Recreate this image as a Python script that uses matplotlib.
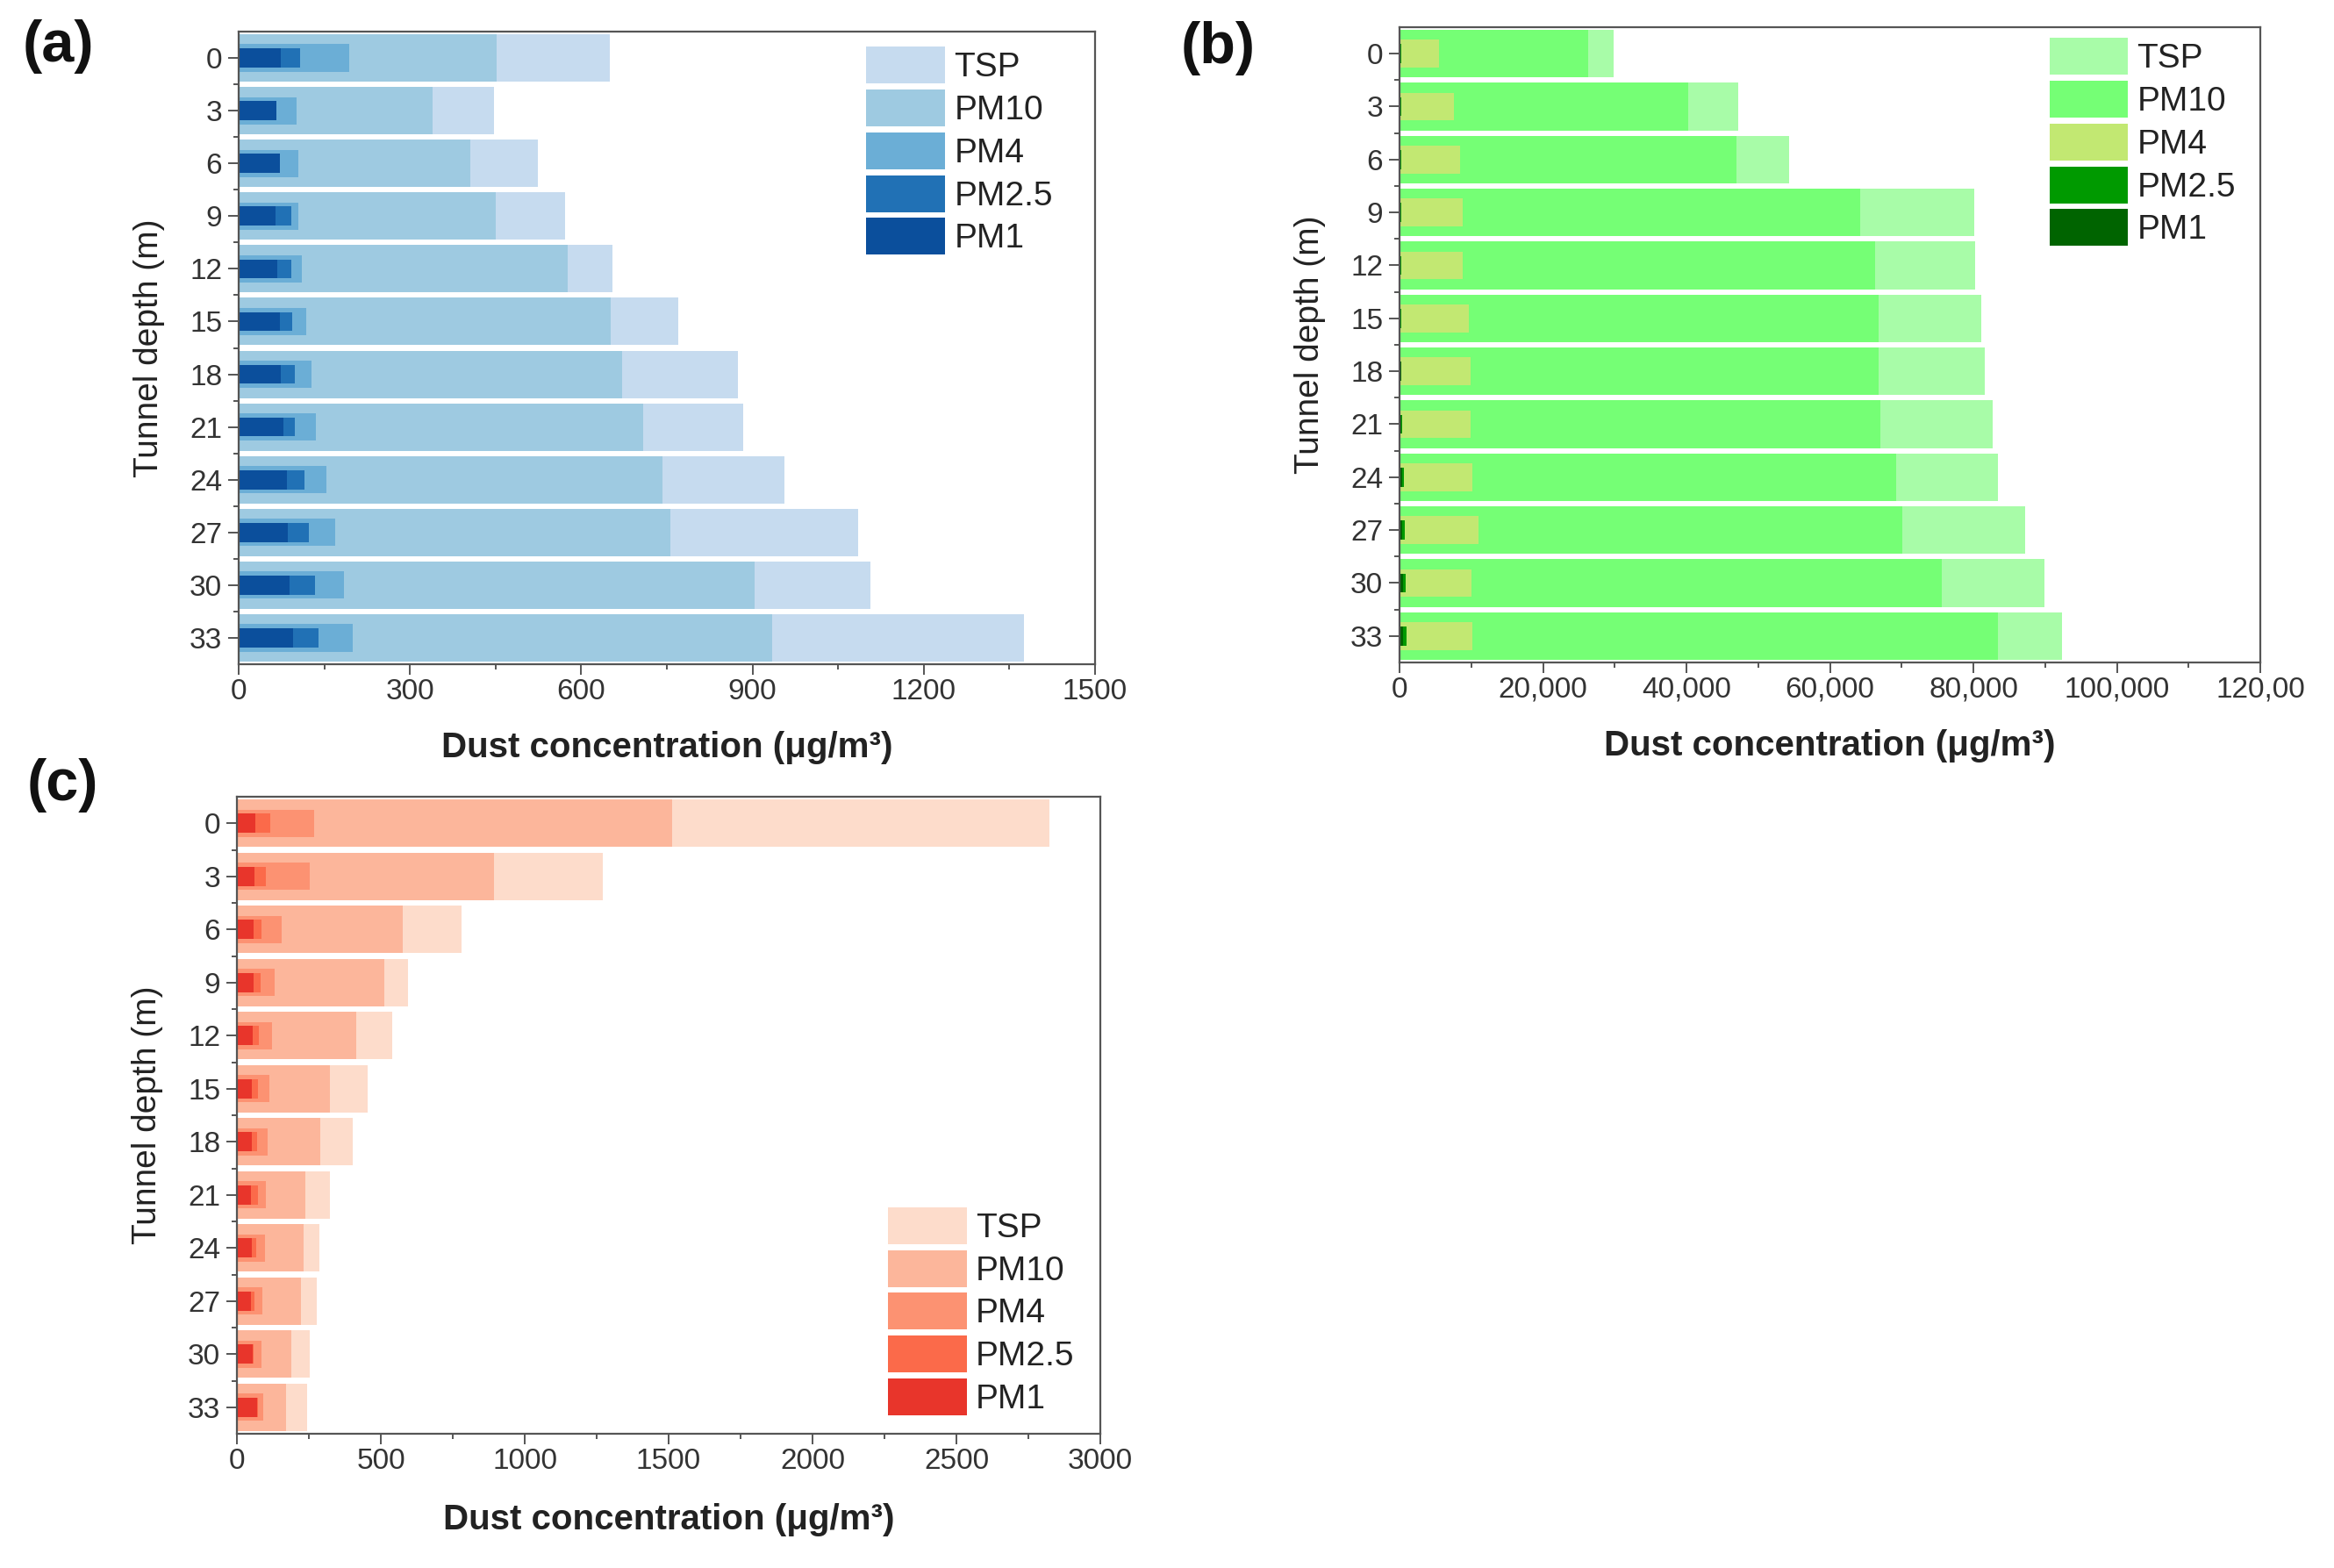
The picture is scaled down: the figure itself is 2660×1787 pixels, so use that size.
import numpy as np
import matplotlib
matplotlib.use("Agg")
import matplotlib.pyplot as plt
from matplotlib.ticker import MultipleLocator, FixedLocator

plt.rcParams['font.family'] = ['Liberation Sans', 'DejaVu Sans']

# ======================================================
# Data
# ======================================================

depths = [0, 3, 6, 9, 12, 15, 18, 21, 24, 27, 30, 33]
size_names = ["TSP", "PM10", "PM4", "PM2.5", "PM1"]

# (a)
a_tsp = [650, 448, 524, 571, 654, 770, 874, 884, 956, 1085, 1106, 1376]
a_pm10 = [452, 340, 406, 451, 577, 652, 671, 708, 743, 756, 903, 935]
a_pm4 = [194, 102, 105, 105, 111, 119, 127, 136, 154, 169, 184, 200]
a_pm25 = [108, 66, 73, 92, 92, 93, 99, 99, 116, 123, 133, 140]
a_pm1 = [74, 66, 73, 64, 67, 72, 74, 78, 84, 86, 89, 95]

# (b)
b_tsp = [29900, 47200, 54300, 80100, 80300, 81100, 81600, 82700, 83400, 87200, 89900, 92400]
b_pm10 = [26300, 40300, 47000, 64200, 66300, 66800, 66800, 67000, 69200, 70100, 75600, 83400]
b_pm4 = [5500, 7600, 8400, 8800, 8800, 9700, 9900, 9900, 10200, 11000, 10000, 10200]
b_pm25 = [200, 250, 250, 300, 300, 300, 300, 350, 600, 700, 800, 950]
b_pm1 = [120, 150, 150, 180, 180, 180, 200, 200, 350, 400, 450, 500]

# (c)
c_tsp = [2824, 1272, 779, 595, 539, 453, 403, 324, 288, 278, 254, 245]
c_pm10 = [1513, 892, 575, 512, 415, 324, 291, 237, 232, 224, 188, 171]
c_pm4 = [268, 254, 154, 132, 123, 112, 108, 100, 98, 87, 84, 90]
c_pm25 = [117, 100, 84, 82, 76, 74, 71, 72, 66, 62, 58, 72]
c_pm1 = [64, 62, 59, 57, 54, 51, 51, 49, 51, 49, 54, 69]

a_ticks = [0, 300, 600, 900, 1200, 1500]
b_ticks = [0, 20000, 40000, 60000, 80000, 100000, 120000]
b_ticklabels = ["0", "20,000", "40,000", "60,000", "80,000", "100,000", "120,00"]
c_ticks = [0, 500, 1000, 1500, 2000, 2500, 3000]

blues = ["#c6dbef", "#9ecae1", "#6baed6", "#2171b5", "#0b4f9c"]
greens = ["#a8fca8", "#75ff75", "#c2e872", "#009a00", "#006400"]
reds = ["#fddccb", "#fcb69b", "#fc9272", "#fb6a4a", "#e8352b"]

# bar thickness per size class (TSP at back, PM1 in front)
heights = [0.9, 0.9, 0.52, 0.36, 0.36]

W, H = 2660, 1787
DARK = "#555555"
TXT = "#222222"


def panel(rect, series, colors, xmax, ticks, minor, ticklabels, leg_loc, leg_anchor, xpad):
    ax = fig.add_axes([rect[0] / W, 1 - rect[3] / H, (rect[2] - rect[0]) / W, (rect[3] - rect[1]) / H])
    y = np.arange(len(depths))
    bars = []
    for vals, c, h, name in zip(series, colors, heights, size_names):
        bars.append(ax.barh(y, vals, height=h, color=c, linewidth=0, label=name))

    ax.set_xlim(0, xmax)
    ax.set_ylim(len(depths) - 0.5, -0.5)
    ax.set_yticks(y)
    ax.set_yticklabels([str(d) for d in depths])
    ax.yaxis.set_minor_locator(FixedLocator(y[:-1] + 0.5))
    ax.set_xticks(ticks)
    if ticklabels is not None:
        ax.set_xticklabels(ticklabels)
    ax.xaxis.set_minor_locator(MultipleLocator(minor))

    for s in ax.spines.values():
        s.set_color(DARK)
        s.set_linewidth(1.6)
    ax.tick_params(which="major", direction="out", length=8.5, width=1.4, color=DARK,
                   labelsize=24, labelcolor="#333333")
    ax.tick_params(axis="x", which="major", pad=3)
    ax.tick_params(axis="y", which="major", pad=5)
    ax.tick_params(which="minor", direction="out", length=4, width=1.4, color=DARK)

    ax.set_xlabel("Dust concentration (μg/m³)", fontsize=29, fontweight="bold", color=TXT, labelpad=xpad)
    ax.set_ylabel("Tunnel depth (m)", fontsize=28, color=TXT, labelpad=20)

    ax.legend(bars, size_names, loc=leg_loc, bbox_to_anchor=leg_anchor, frameon=False,
              fontsize=28, handlelength=2.31, handleheight=1.29, labelspacing=0.17,
              handletextpad=0.26, borderpad=0, borderaxespad=0, labelcolor=TXT)
    return ax


fig = plt.figure(figsize=(W / 100, H / 100), dpi=100)

panel((272, 36, 1248, 757), [a_tsp, a_pm10, a_pm4, a_pm25, a_pm1], blues,
      1500, a_ticks, 150, None, "upper left", (0.733, 0.976), 21)
panel((1595, 31, 2576, 755), [b_tsp, b_pm10, b_pm4, b_pm25, b_pm1], greens,
      120000, b_ticks, 10000, b_ticklabels, "upper left", (0.755, 0.983), 21)
panel((270, 908, 1254, 1634), [c_tsp, c_pm10, c_pm4, c_pm25, c_pm1], reds,
      3000, c_ticks, 250, None, "lower left", (0.754, 0.029), 23)

fig.text(26 / W, 1 - 53 / H, "(a)", fontsize=48, fontweight="bold", va="center", ha="left", color="#111111")
fig.text(1346 / W, 1 - 55 / H, "(b)", fontsize=48, fontweight="bold", va="center", ha="left", color="#111111")
fig.text(31 / W, 1 - 895 / H, "(c)", fontsize=48, fontweight="bold", va="center", ha="left", color="#111111")

fig.savefig("out.png", dpi=100)
